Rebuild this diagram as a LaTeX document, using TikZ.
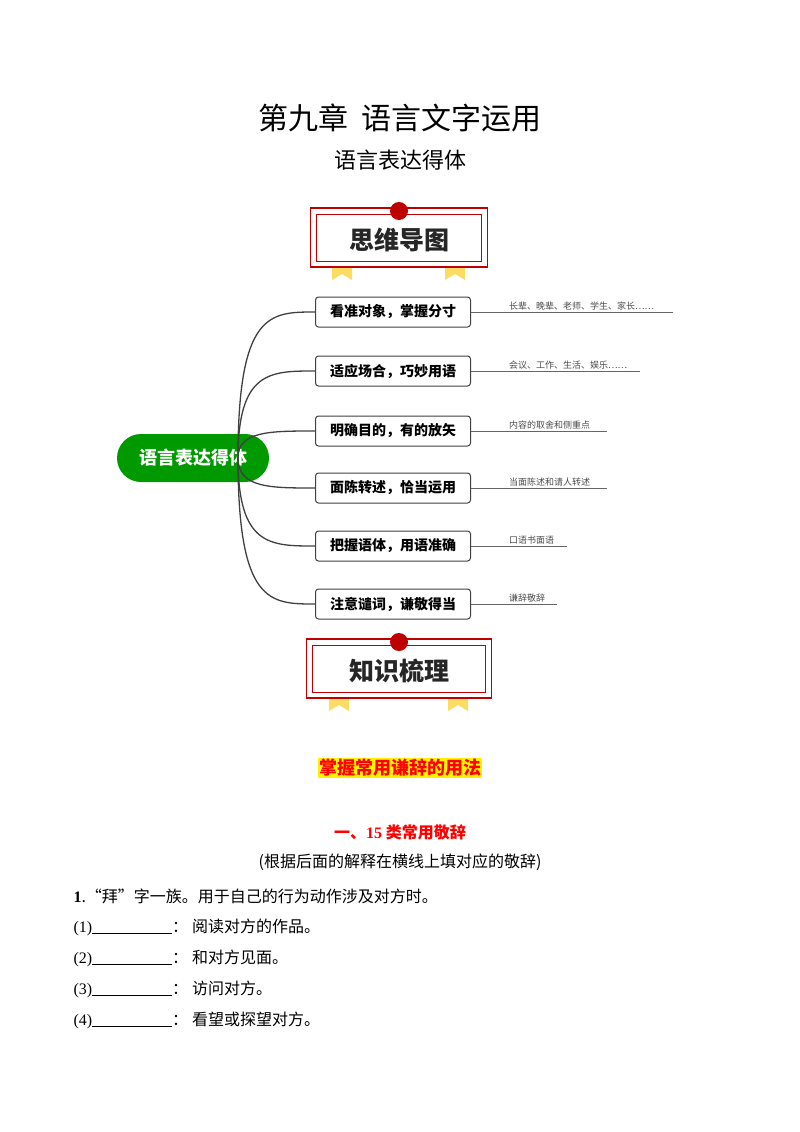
\documentclass[tikz,border=0pt]{standalone}
\usepackage{fontspec}
\setmainfont{Noto Sans CJK SC}
\newfontfamily\tnr{Liberation Serif}
\begin{document}
\begin{tikzpicture}[x=1pt,y=-1pt,
  br/.style={draw=black!75,line width=1pt,rounded corners=3pt,minimum width=155pt,minimum height=30pt,font=\fontsize{14}{14}\selectfont\bfseries,fill=white},
  lab/.style={anchor=south west,font=\fontsize{9}{9}\selectfont,text=black!70,inner sep=1pt},
  cur/.style={draw=black!75,line width=1.3pt},
  rb/.style={fill=yellow!60!orange!60!white}]
\useasboundingbox (0,0) rectangle (800,1132);
\node (t1) at (400,118) {\fontsize{30}{30}\selectfont 第九章\hspace{14pt}语言文字运用};
\node (t2) at (400,160) {\fontsize{22}{22}\selectfont 语言表达得体};
\foreach \bx/\by/\bw/\tx/\ra/\rbx in {399/238/177/思维导图/342/455, 399/669/185/知识梳理/339/458}{
  \fill[rb] (\ra-10,\by+24) -- (\ra+10,\by+24) -- (\ra+10,\by+42) -- (\ra,\by+36) -- (\ra-10,\by+42) -- cycle;
  \fill[rb] (\rbx-10,\by+24) -- (\rbx+10,\by+24) -- (\rbx+10,\by+42) -- (\rbx,\by+36) -- (\rbx-10,\by+42) -- cycle;
  \draw[red!75!black,line width=1.3pt,fill=white] (\bx-\bw/2,\by-30) rectangle (\bx+\bw/2,\by+29);
  \draw[red!75!black,line width=0.7pt] (\bx-\bw/2+6,\by-24) rectangle (\bx+\bw/2-6,\by+23);
  \fill[red!75!black] (\bx,\by-27) circle (9);
  \node[font=\fontsize{25}{25}\selectfont\bfseries,text=black!85] at (\bx,\by+2) {\tx};
}
\node[fill=green!60!black,text=white,rounded corners=24pt,minimum width=152pt,minimum height=48pt,font=\fontsize{18}{18}\selectfont\bfseries] (c) at (193,458) {语言表达得体};
\coordinate (o) at (238,458);
\foreach \i/\y/\t/\l/\e in {1/312/看准对象，掌握分寸/长辈、晚辈、老师、学生、家长……/673,
  2/371/适应场合，巧妙用语/会议、工作、生活、娱乐……/640,
  3/431/明确目的，有的放矢/内容的取舍和侧重点/607,
  4/488/面陈转述，恰当运用/当面陈述和请人转述/607,
  5/546/把握语体，用语准确/口语书面语/567,
  6/604/注意谴词，谦敬得当/谦辞敬辞/557}{
  \node[br] (b\i) at (393,\y) {\t};
  \coordinate (e\i) at (\e,\y);
  \draw[black!60,line width=0.8pt] (b\i.east) -- (e\i);
  \node[lab] at (508,\y-1) {\l};
  \draw[cur] (o) .. controls (238,\y) and (270,\y) .. (b\i.west);
}
\node[fill=yellow,text=red,inner sep=1pt,font=\fontsize{18}{18}\selectfont\bfseries] (h) at (400,768) {掌握常用谦辞的用法};
\node[text=red,font=\fontsize{16}{16}\selectfont\bfseries] (s1) at (400,832) {一、{\tnr\bfseries 15} 类常用敬辞};
\node[font=\fontsize{16}{16}\selectfont] (s2) at (400,862) {({}根据后面的解释在横线上填对应的敬辞)};
\node[anchor=west,font=\fontsize{16}{16}\selectfont] (q) at (70,896) {{\tnr\bfseries 1}.“拜”字一族。用于自己的行为动作涉及对方时。};
\foreach \n/\y/\t in {1/927/阅读对方的作品。,2/958/和对方见面。,3/989/访问对方。,4/1020/看望或探望对方。}{
  \node[anchor=west,font=\fontsize{16}{16}\selectfont] (i\n) at (70,\y) {{\tnr(\n)\underline{\hspace{80pt}}}：\hspace{4pt}\t};
}
\end{tikzpicture}
\end{document}
